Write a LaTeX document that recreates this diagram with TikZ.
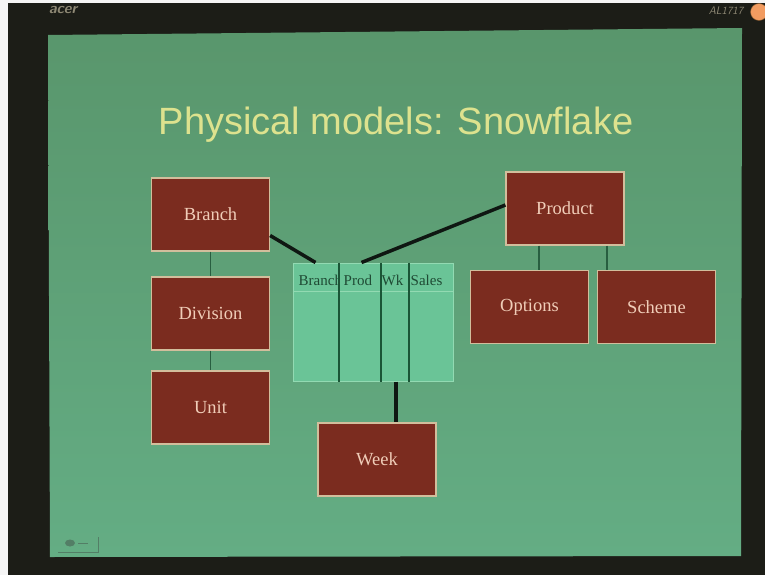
\documentclass[tikz,border=0pt]{standalone}
\usepackage{fontspec}
\setmainfont{Liberation Serif}
\newfontfamily\titlefont{Liberation Sans}
\usetikzlibrary{calc}

\definecolor{bezel}{HTML}{1C1D17}
\definecolor{bezeltext}{HTML}{8E8874}
\definecolor{slidetop}{HTML}{59966C}
\definecolor{slidebot}{HTML}{64AD84}
\definecolor{titlecol}{HTML}{DDE28E}
\definecolor{boxred}{HTML}{7B2C1F}
\definecolor{boxedge}{HTML}{D2BE9C}
\definecolor{boxtext}{HTML}{F0CDB8}
\definecolor{factfill}{HTML}{6AC497}
\definecolor{factedge}{HTML}{92DAB2}
\definecolor{factline}{HTML}{1A5536}
\definecolor{facttext}{HTML}{1F4A34}
\definecolor{thinlink}{HTML}{285E40}
\definecolor{thicklink}{HTML}{0F1712}

\tikzset{
  dimbox/.style={draw=boxedge, fill=boxred, line width=1.2pt,
    minimum width=118pt, minimum height=73pt, inner sep=0pt,
    text=boxtext, font=\fontsize{18.5}{20}\selectfont},
  facthead/.style={anchor=base west, inner sep=0pt, text=facttext,
    font=\fontsize{15}{17}\selectfont},
  thin link/.style={draw=thinlink, line width=1.8pt},
  thick link/.style={draw=thicklink, line width=3.5pt}
}

\begin{document}
\begin{tikzpicture}[x=1pt,y=-1pt]
\useasboundingbox (0,0) rectangle (765,575);

% monitor bezel
\fill[bezel] (0,0) rectangle (765,575);
\fill[white!92!gray] (0,0) rectangle (8,575);
\fill[white!92!gray] (0,0) rectangle (765,3);
\node[text=bezeltext, font=\sffamily\bfseries\itshape\fontsize{15}{15}\selectfont] (brand) at (63,10) {acer};
\node[text=bezeltext, font=\sffamily\itshape\fontsize{11}{11}\selectfont] (model) at (726,11) {AL1717};
\fill[draw=brown!70!black, fill=orange!45!pink!80!brown] (759,12) circle (8.5);

% slide
\shade[top color=slidetop, bottom color=slidebot]
  (48,35) -- (742,28) -- (741,556) -- (50,557) -- cycle;

% navigation control, bottom left
\begin{scope}[draw=thinlink!80, fill=thinlink!80, line width=1pt]
  \draw (58,552) -- (98,552) -- (98,537);
  \fill (70,543) ellipse (5 and 3.5);
  \draw (78,543) -- (88,543);
\end{scope}

% title
\node[font=\titlefont\fontsize{38}{40}\selectfont, text=titlecol,
      anchor=base, inner sep=0pt] (title) at (396,135) {Physical models: Snowflake};

% dimension tables
\node[dimbox] (branch)   at (210.5,214.5) {Branch};
\node[dimbox] (division) at (210.5,313.5) {Division};
\node[dimbox] (unit)     at (210.5,407.5) {Unit};
\node[dimbox] (product)  at (565,208.5)   {Product};
\node[dimbox] (options)  at (529.5,307)   {Options};
\node[dimbox] (scheme)   at (656.5,307)   {Scheme};
\node[dimbox] (week)     at (377,459.5)   {Week};

% fact table
\node[draw=factedge, fill=factfill, line width=1pt, minimum width=160pt,
      minimum height=118pt, inner sep=0pt] (fact) at (373,322) {};
\draw[factedge, line width=0.8pt] ([yshift=-29pt]fact.north west) -- ([yshift=-29pt]fact.north east);
\foreach \cx in {46,88,116}
  \draw[factline, line width=2pt] ([xshift=\cx pt]fact.north west) -- ([xshift=\cx pt]fact.south west);
\begin{scope}
  \clip ([xshift=1pt,yshift=-1pt]fact.north west) rectangle ([xshift=45pt,yshift=-28pt]fact.north west);
  \node[facthead] (hbranch) at ([xshift=6pt,yshift=-23pt]fact.north west) {Branch};
\end{scope}
\node[facthead] (hprod)  at ([xshift=51pt,yshift=-23pt]fact.north west) {Prod};
\node[facthead] (hwk)    at ([xshift=89pt,yshift=-23pt]fact.north west) {Wk};
\node[facthead] (hsales) at ([xshift=118pt,yshift=-23pt]fact.north west) {Sales};

% snowflake links between dimension levels
\draw[thin link] (branch.south) -- (division.north);
\draw[thin link] (division.south) -- (unit.north);
\draw[thin link] ([xshift=-26pt]product.south) -- ([xshift=-26pt]product.south |- options.north);
\draw[thin link] ([xshift=42pt]product.south) -- ([xshift=42pt]product.south |- scheme.north);

% links from the fact table to its dimensions
\draw[thick link] ([yshift=-21pt]branch.east) -- ([xshift=23pt]fact.north west);
\draw[thick link] ([yshift=3.5pt]product.west) -- ([xshift=69pt]fact.north west);
\draw[thick link] ([xshift=23pt]fact.south) -- ([xshift=23pt]fact.south |- week.north);
\end{tikzpicture}
\end{document}
